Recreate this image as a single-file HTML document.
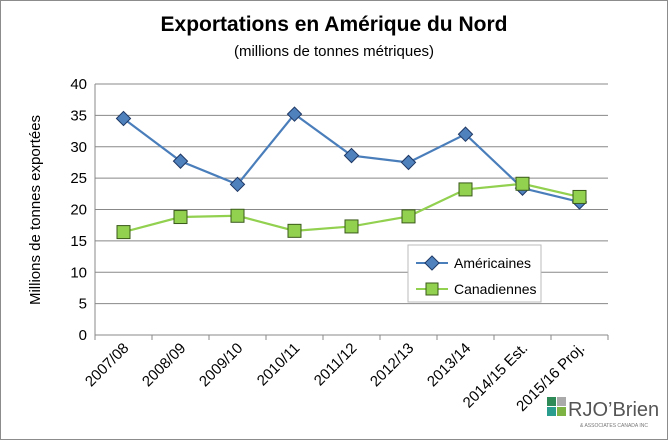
<!DOCTYPE html>
<html><head><meta charset="utf-8"><style>
body{margin:0;background:#fff;font-family:"Liberation Sans",sans-serif}
svg{display:block}
</style></head><body>
<svg width="669" height="441" viewBox="0 0 669 441">
<rect x="0.5" y="0.5" width="667" height="439" fill="#fff" stroke="#8c8c8c"/>
<text x="334" y="31" text-anchor="middle" font-size="21" font-weight="bold" fill="#000">Exportations en Amérique du Nord</text>
<text x="334" y="56" text-anchor="middle" font-size="15" fill="#000">(millions de tonnes métriques)</text>
<text transform="translate(40,210) rotate(-90)" text-anchor="middle" font-size="15" fill="#000">Millions de tonnes exportées</text>
<g id="grid"></g><g id="axes"></g><g id="series"></g>
<g>
<rect x="408" y="245" width="133" height="57" fill="#fff" stroke="#bbb"/>
<line x1="416" y1="263" x2="448" y2="263" stroke="#4a7ebb" stroke-width="2"/>
<rect x="427" y="258" width="10" height="10" transform="rotate(45 432 263)" fill="#4f81bd" stroke="#1f3864"/>
<text x="454" y="268" font-size="14">Américaines</text>
<line x1="416" y1="289" x2="448" y2="289" stroke="#92d050" stroke-width="2"/>
<rect x="426" y="283" width="12" height="12" fill="#92d050" stroke="#3a5a1a"/>
<text x="454" y="294" font-size="14">Canadiennes</text>
</g>
<g>
<rect x="547" y="397" width="9" height="9" fill="#2e8b57"/><rect x="557" y="397" width="9" height="9" fill="#aaa"/>
<rect x="547" y="407" width="9" height="9" fill="#2a9d8f"/><rect x="557" y="407" width="9" height="9" fill="#7cb342"/>
<text x="568" y="416" font-size="20" fill="#555">RJO’Brien</text>
<text x="580" y="427" font-size="5" fill="#777">&amp; ASSOCIATES CANADA INC</text>
</g>
</svg>
<script>
const categories=["2007/08","2008/09","2009/10","2010/11","2011/12","2012/13","2013/14","2014/15 Est.","2015/16 Proj."];
const americaines=[34.5,27.7,24.0,35.2,28.6,27.5,32.0,23.4,21.2];
const canadiennes=[16.4,18.8,19.0,16.6,17.3,18.9,23.2,24.1,22.0];
const yTicks=[0,5,10,15,20,25,30,35,40];
const NS="http://www.w3.org/2000/svg";
const x0=95,x1=608,y0=335,y1=84;
const xs=i=>x0+(i+0.5)*(x1-x0)/categories.length;
const ys=v=>y0-(v/40)*(y0-y1);
function mk(t,a,p){const e=document.createElementNS(NS,t);for(const k in a)e.setAttribute(k,a[k]);p.appendChild(e);return e;}
const grid=document.getElementById('grid'),axes=document.getElementById('axes'),ser=document.getElementById('series');
yTicks.forEach(v=>{
 const l=mk('line',{x1:x0,x2:x1,y1:ys(v),y2:ys(v),stroke:v===0?'#888':'#888','stroke-width':1},grid);
 
 
 const t=mk('text',{x:x0-8,y:ys(v)+5,'text-anchor':'end','font-size':15},axes);t.textContent=v;
 
 
});
mk('line',{x1:x0,x2:x0,y1:y1,y2:y0,stroke:'#888'},axes);
categories.forEach((c,i)=>{
 const bx=x0+i*(x1-x0)/categories.length;
 mk('line',{x1:bx,x2:bx,y1:y0,y2:y0+5,stroke:'#888'},axes);
 const x=xs(i)+6,y=y0+14;
 const t=mk('text',{x:x,y:y,'text-anchor':'end','font-size':15,transform:`rotate(-45 ${x} ${y})`},axes);t.textContent=c;
 
 
});
mk('line',{x1:x1,x2:x1,y1:y0,y2:y0+5,stroke:'#888'},axes);
function line(vals,color,name){
 const p=mk('polyline',{points:vals.map((v,i)=>xs(i)+','+ys(v)).join(' '),fill:'none',stroke:color,'stroke-width':2.2},ser);
 
 
}
line(americaines,'#4a7ebb','americaines');
line(canadiennes,'#92d050','canadiennes');
americaines.forEach((v,i)=>{
 const m=mk('rect',{x:xs(i)-5,y:ys(v)-5,width:10,height:10,fill:'#4f81bd',stroke:'#1f3864',transform:`rotate(45 ${xs(i)} ${ys(v)})`},ser);
 
 
});
canadiennes.forEach((v,i)=>{
 const m=mk('rect',{x:xs(i)-6.5,y:ys(v)-6.5,width:13,height:13,fill:'#92d050',stroke:'#3a5a1a'},ser);
 
 
});
</script>
</body></html>
